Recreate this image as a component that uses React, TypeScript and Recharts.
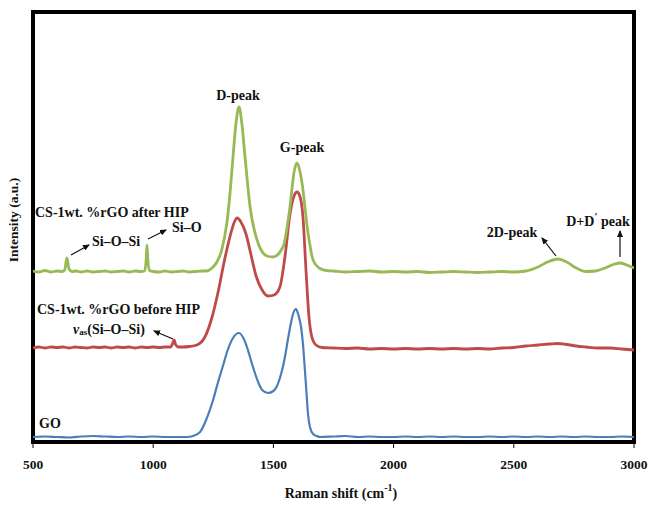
import React from 'react';
import { LineChart, Line, XAxis, YAxis, ReferenceArea } from 'recharts';

// ---- Data ----
const xTicks = [500, 1000, 1500, 2000, 2500, 3000];

const goShift = [500, 550, 600, 650, 700, 750, 800, 850, 900, 950, 1000, 1050, 1100, 1140, 1165, 1195, 1220, 1249, 1270, 1290, 1310, 1332, 1357, 1375, 1390, 1405, 1423, 1440, 1453, 1478, 1500, 1515, 1532, 1548, 1560, 1573, 1583, 1594, 1604, 1615, 1623, 1631, 1638, 1644, 1652, 1665, 1680, 1694, 1750, 1800, 1850, 1900, 1950, 2000, 2050, 2100, 2150, 2200, 2250, 2300, 2350, 2400, 2450, 2500, 2550, 2600, 2650, 2700, 2750, 2800, 2850, 2900, 2950, 3000];
const goIntensity = [5, 5.5, 5, 4.5, 5.5, 6, 5.5, 5, 5.5, 5, 5.5, 5, 5, 5, 6, 10, 22, 42, 60, 76, 92, 104, 109, 104, 95, 83, 69, 58, 52, 49, 51, 56, 68, 85, 102, 119, 129, 133, 127, 115, 98, 72, 48, 28, 15, 8, 6, 5, 5.5, 6, 5, 5.5, 5, 5, 5.5, 5, 5.5, 5, 5.5, 5, 5, 5.5, 5, 5.5, 5, 5.5, 5, 5.5, 5, 5.5, 5, 5, 5.5, 5];

const beforeShift = [500, 525, 550, 575, 600, 625, 650, 675, 700, 725, 750, 775, 800, 825, 850, 875, 900, 925, 950, 975, 1000, 1025, 1050, 1072, 1080, 1087, 1094, 1105, 1125, 1150, 1182, 1215, 1245, 1270, 1295, 1320, 1336, 1349, 1365, 1386, 1407, 1428, 1453, 1478, 1503, 1527, 1548, 1569, 1586, 1598, 1611, 1623, 1636, 1648, 1660, 1677, 1702, 1750, 1800, 1850, 1900, 1950, 2000, 2050, 2100, 2150, 2200, 2250, 2300, 2350, 2400, 2450, 2500, 2550, 2600, 2650, 2680, 2720, 2760, 2800, 2850, 2900, 2950, 3000];
const beforeIntensity = [94, 95, 94, 95, 94.5, 95, 94, 95, 94.5, 94, 95, 94.5, 95, 94, 95, 94.5, 95, 94, 95, 94.5, 95, 94.5, 95, 95, 98, 102, 97, 95, 95, 95.5, 97, 105, 125, 150, 180, 206, 219, 224, 220, 208, 187, 166, 152, 146, 147, 155, 185, 228, 246, 250, 245, 225, 170, 125, 105, 97, 94.5, 94, 93.5, 94, 93, 93.5, 93, 93.5, 93, 93.5, 93, 93.5, 93, 93.5, 93, 94, 94.5, 96, 97, 98, 98.5, 97.5, 96, 95, 94, 94, 93, 92];

const afterShift = [500, 525, 550, 575, 600, 620, 632, 641, 650, 662, 680, 700, 725, 750, 775, 800, 825, 850, 875, 900, 925, 950, 964, 970, 974, 978, 985, 1000, 1025, 1050, 1075, 1100, 1125, 1150, 1175, 1200, 1220, 1245, 1265, 1285, 1307, 1320, 1332, 1344, 1357, 1369, 1382, 1403, 1432, 1473, 1498, 1540, 1569, 1586, 1598, 1611, 1619, 1644, 1665, 1690, 1720, 1750, 1800, 1850, 1900, 1950, 2000, 2050, 2100, 2150, 2200, 2250, 2300, 2350, 2400, 2450, 2500, 2550, 2600, 2640, 2684, 2720, 2760, 2800, 2840, 2880, 2920, 2942, 2970, 3000];
const afterIntensity = [171, 170, 171.5, 170, 171, 170.5, 172, 184, 173, 170.5, 171, 170, 171, 170, 170.5, 171, 170, 170.5, 171, 170, 171, 170.5, 171, 180, 197, 181, 171.5, 170.5, 170, 171, 170, 170.5, 171, 170, 170.5, 171, 171, 174, 180, 192, 220, 250, 285, 318, 335, 318, 285, 235, 202, 186, 185, 195, 235, 270, 279, 270, 259, 209, 182, 174, 171.5, 171, 170, 170.5, 171, 170, 170.5, 170, 170.5, 169.5, 170, 170.5, 170, 169.5, 170, 170.5, 170, 171, 175, 180, 183, 180, 174, 170.5, 171, 174, 178, 179, 177, 174];

const toRows = (xs: number[], ys: number[]) => xs.map((x, i) => ({ x, y: ys[i] }));
const goData = toRows(goShift, goIntensity);
const beforeData = toRows(beforeShift, beforeIntensity);
const afterData = toRows(afterShift, afterIntensity);

// ---- Layout ----
const W = 649;
const H = 505;
const MARGIN = { top: 12, right: 15, bottom: 33, left: 33 };
const XAXIS_H = 30;
const FONT = '"Liberation Serif", "Times New Roman", serif';

const txt = { fontFamily: FONT, fontWeight: 700, fill: '#111' } as const;

function Arrow({ x1, y1, x2, y2 }: { x1: number; y1: number; x2: number; y2: number }) {
  return <line x1={x1} y1={y1} x2={x2} y2={y2} stroke="#111" strokeWidth={1.2} markerEnd="url(#ah)" />;
}

export default function App() {
  return (
    <div style={{ position: 'absolute', left: 0, top: 0, width: W, height: H, background: '#fff' }}>
      <LineChart width={W} height={H} margin={MARGIN}>
        <XAxis
          type="number"
          dataKey="x"
          domain={[500, 3000]}
          ticks={xTicks}
          allowDataOverflow
          axisLine={false}
          tickLine={{ stroke: '#000', strokeWidth: 1 }}
          tickSize={6}
          tickMargin={11}
          height={XAXIS_H}
          tick={{ fontFamily: FONT, fontWeight: 700, fontSize: 13.5, fill: '#111' }}
        />
        <YAxis type="number" domain={[0, 430]} hide allowDataOverflow />
        <Line data={goData} dataKey="y" type="monotone" stroke="#4A7EBB" strokeWidth={2.2} dot={false} isAnimationActive={false} />
        <Line data={beforeData} dataKey="y" type="monotone" stroke="#BE4B48" strokeWidth={2.8} dot={false} isAnimationActive={false} />
        <Line data={afterData} dataKey="y" type="monotone" stroke="#98B954" strokeWidth={2.8} dot={false} isAnimationActive={false} />
        <ReferenceArea x1={500} x2={3000} y1={0} y2={430} fill="none" stroke="#000" strokeWidth={4} ifOverflow="visible" />
      </LineChart>
      <svg width={W} height={H} style={{ position: 'absolute', left: 0, top: 0, pointerEvents: 'none' }}>
        <defs>
          <marker id="ah" markerWidth="7" markerHeight="6" refX="6" refY="3" orient="auto" markerUnits="userSpaceOnUse">
            <path d="M0,0 L7,3 L0,6 z" fill="#111" />
          </marker>
        </defs>
        <text {...txt} fontSize={13.5} x={13} y={220} textAnchor="middle" dominantBaseline="central" transform="rotate(-90 13 220)">Intensity (a.u.)</text>
        <text {...txt} fontSize={14} x={341} y={493} textAnchor="middle" dominantBaseline="central">
          Raman shift (cm<tspan fontSize={10} dy={-6}>-1</tspan><tspan dy={6}>)</tspan>
        </text>

        <text {...txt} fontSize={14} x={35} y={212} dominantBaseline="central">CS-1wt. %rGO after HIP</text>
        <text {...txt} fontSize={14} x={172} y={227} dominantBaseline="central">Si–O</text>
        <text {...txt} fontSize={14} x={92} y={241} dominantBaseline="central">Si–O–Si</text>
        <Arrow x1={71} y1={255} x2={89} y2={245} />
        <Arrow x1={148} y1={239} x2={166} y2={230} />

        <text {...txt} fontSize={14} x={37} y={309} dominantBaseline="central">CS-1wt. %rGO before HIP</text>
        <text {...txt} fontSize={14} x={73} y={329} dominantBaseline="central">
          <tspan fontStyle="italic">v</tspan>
          <tspan fontSize={9} dy={3}>as</tspan>
          <tspan dy={-3}>(Si–O–Si)</tspan>
        </text>
        <Arrow x1={173} y1={339} x2={154} y2={331} />

        <text {...txt} fontSize={14} x={39} y={423} dominantBaseline="central">GO</text>

        <text {...txt} fontSize={14} x={238} y={95} textAnchor="middle" dominantBaseline="central">D-peak</text>
        <text {...txt} fontSize={14} x={302} y={147} textAnchor="middle" dominantBaseline="central">G-peak</text>

        <text {...txt} fontSize={14} x={512} y={232} textAnchor="middle" dominantBaseline="central">2D-peak</text>
        <Arrow x1={556} y1={256} x2={542} y2={238} />
        <text {...txt} fontSize={14} x={598} y={221} textAnchor="middle" dominantBaseline="central">
          D+D<tspan fontSize={11} dy={-5}>′</tspan><tspan dy={5}> peak</tspan>
        </text>
        <Arrow x1={620} y1={257} x2={620} y2={231} />
      </svg>
    </div>
  );
}
